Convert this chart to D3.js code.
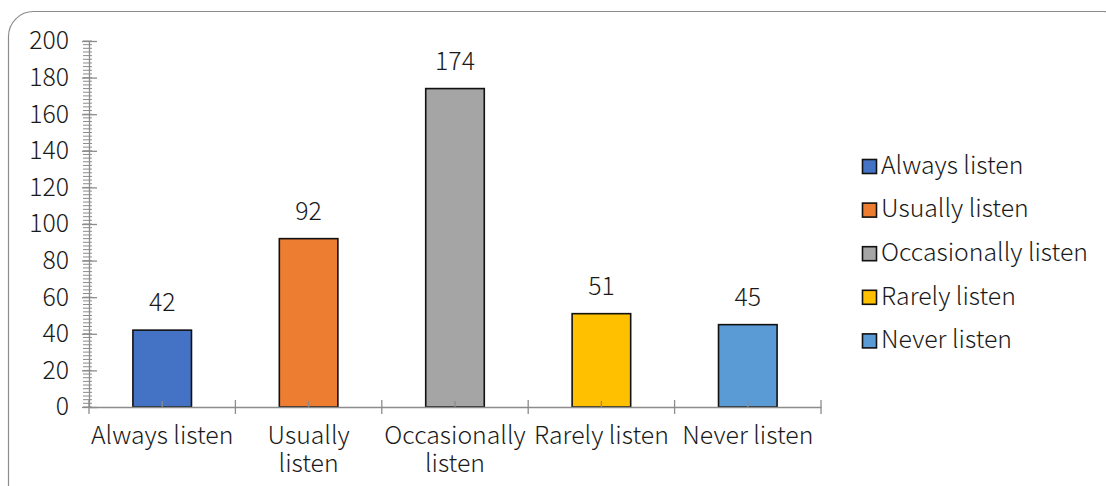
<!DOCTYPE html>
<html>
<head>
<meta charset="utf-8">
<script src="https://cdn.jsdelivr.net/npm/d3@7"></script>
<style>
  body { margin: 0; background: #fff; }
  text { font-family: "Noto Sans CJK SC", "Noto Sans", sans-serif; font-weight: 300; fill: #1a1a1a; }
</style>
</head>
<body>
<div id="container"></div>
<script>
/* DATA */
const categories = ["Always listen", "Usually listen", "Occasionally listen", "Rarely listen", "Never listen"];
const counts = [42, 92, 174, 51, 45];
const colors = ["#4472C4", "#ED7D31", "#A5A5A5", "#FFC000", "#5B9BD5"];
// how the category labels wrap under the axis
const tickLines = [["Always listen"], ["Usually", "listen"], ["Occasionally", "listen"], ["Rarely listen"], ["Never listen"]];
const yTicks = [0, 20, 40, 60, 80, 100, 120, 140, 160, 180, 200];

/* CONSTANTS */
const width = 1106, height = 486;
const margin = { top: 41, left: 89, right: 285, bottom: 79 };
const fontSize = 24.8;
const fontFam = "\"Noto Sans CJK SC\", \"Noto Sans\", sans-serif";

const svg = d3.select("#container")
  .append("svg")
  .attr("width", width)
  .attr("height", height);

// rounded chart-area border (runs off the right and bottom)
svg.append("rect")
  .attr("x", 8.5).attr("y", 11.5)
  .attr("width", 1120).attr("height", 520)
  .attr("rx", 25)
  .attr("fill", "none")
  .attr("stroke", "#8c8c8c")
  .attr("stroke-width", 1.2);

/* SCALES */
const xScale = d3.scaleBand()
  .domain(categories)
  .range([margin.left, width - margin.right])
  .paddingInner(0).paddingOuter(0);

const yScale = d3.scaleLinear()
  .domain([0, 200])
  .range([height - margin.bottom, margin.top]);

const step = xScale.step();
const barW = step * 0.4;
const y0 = yScale(0);

/* BARS */
svg.selectAll("rect.bar")
  .data(categories)
  .join("rect")
  .attr("class", "bar")
  .attr("x", d => xScale(d) + (step - barW) / 2)
  .attr("width", barW)
  .attr("y", (d, i) => yScale(counts[i]))
  .attr("height", (d, i) => y0 - yScale(counts[i]))
  .attr("fill", (d, i) => colors[i])
  .attr("stroke", "#111")
  .attr("stroke-width", 1.6);

// value labels
svg.selectAll("text.val")
  .data(categories)
  .join("text")
  .attr("class", "val")
  .attr("x", d => xScale(d) + step / 2)
  .attr("y", (d, i) => yScale(counts[i]) - 19)
  .attr("text-anchor", "middle")
  .attr("font-size", fontSize)
  .text((d, i) => counts[i]);

/* AXES */
const axisColor = "#8c8c8c";

// y minor ticks every 2
svg.append("g")
  .selectAll("line")
  .data(d3.range(0, 201, 2))
  .join("line")
  .attr("x1", margin.left - 6).attr("x2", margin.left + 3)
  .attr("y1", d => yScale(d)).attr("y2", d => yScale(d))
  .attr("stroke", axisColor).attr("stroke-width", 1);

const yAxis = d3.axisLeft(yScale).tickValues(yTicks).tickSize(0).tickPadding(20);
const gy = svg.append("g")
  .attr("transform", `translate(${margin.left},0)`)
  .call(yAxis);
gy.select(".domain").attr("stroke", axisColor).attr("stroke-width", 1.3);
gy.selectAll(".tick line")
  .attr("x1", -7).attr("x2", 8)
  .attr("stroke", axisColor).attr("stroke-width", 1.3);
gy.selectAll(".tick text")
  .attr("font-size", fontSize)
  .attr("font-family", fontFam)
  .attr("font-weight", 300)
  .attr("fill", "#1a1a1a");

// x axis
const xAxis = d3.axisBottom(xScale).tickSize(0).tickFormat("");
const gx = svg.append("g")
  .attr("transform", `translate(0,${y0})`)
  .call(xAxis);
gx.select(".domain").attr("stroke", axisColor).attr("stroke-width", 1.6);
gx.selectAll(".tick line").remove();

// boundary ticks between categories
const bounds = categories.map(d => xScale(d)).concat([xScale.range()[1]]);
gx.selectAll("line.bound")
  .data(bounds)
  .join("line")
  .attr("class", "bound")
  .attr("x1", d => d).attr("x2", d => d)
  .attr("y1", -7).attr("y2", 7)
  .attr("stroke", axisColor).attr("stroke-width", 1.3);

// short ticks at category centres
gx.selectAll("line.mid")
  .data(categories)
  .join("line")
  .attr("class", "mid")
  .attr("x1", d => xScale(d) + step / 2).attr("x2", d => xScale(d) + step / 2)
  .attr("y1", -6).attr("y2", 0)
  .attr("stroke", axisColor).attr("stroke-width", 1.3);

// category labels, wrapped (one text per line)
categories.forEach((c, i) => {
  tickLines[i].forEach((line, j) => {
    svg.append("text")
      .attr("class", "xlab")
      .attr("x", xScale(c) + step / 2)
      .attr("y", y0 + 37 + j * 28)
      .attr("text-anchor", "middle")
      .attr("font-size", fontSize)
      .text(line);
  });
});

/* LEGEND */
const legend = svg.append("g").attr("transform", "translate(862,166)");
const item = legend.selectAll("g")
  .data(categories)
  .join("g")
  .attr("transform", (d, i) => `translate(0,${i * 43.6})`);
item.append("rect")
  .attr("x", 0.5).attr("y", -6.5)
  .attr("width", 14).attr("height", 14)
  .attr("fill", (d, i) => colors[i])
  .attr("stroke", "#111").attr("stroke-width", 1.6);
item.append("text")
  .attr("x", 19).attr("y", 1)
  .attr("dominant-baseline", "middle")
  .attr("font-size", fontSize)
  .text(d => d);
</script>
</body>
</html>
